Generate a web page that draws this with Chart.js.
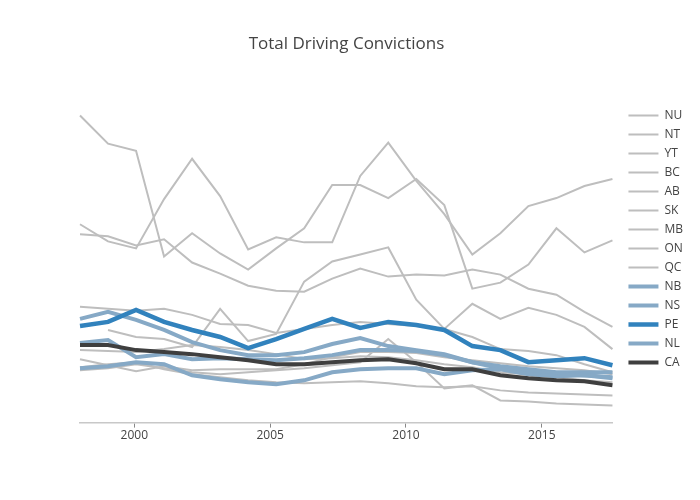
<!DOCTYPE html>
<html>
<head>
<meta charset="utf-8">
<script src="https://cdn.jsdelivr.net/npm/chart.js@4.4.1/dist/chart.umd.min.js"></script>
<style>
  html, body { margin: 0; padding: 0; background: #fff; }
</style>
</head>
<body>
<canvas id="convictions" width="700" height="500"></canvas>
<script>
// data (arbitrary units, 0 = bottom of the plot)
const years = [1998, 1999, 2000, 2001, 2002, 2003, 2004, 2005, 2006, 2007,
               2008, 2009, 2010, 2011, 2012, 2013, 2014, 2015, 2016, 2017];
const tickYears = [2000, 2005, 2010, 2015];

const NU = [305, 277, 270, 165, 188, 168, 152, 173, 193, 236, 236, 223, 242, 216, 133, 139, 157, 193, 169, 181];
const NT = [197, 180, 173, 222, 262, 225, 172, 184, 179, 179, 245, 278, 240, 207, 167, 188, 215, 223, 235, 242];
const YT = [null, 92, 85, 83, 75, 113, 81, 88, 140, 160, 167, 174, 122, 93, 118, 103, 114, 107, 95, 73];
const BC = [115, 113, 111, 113, 107, 98, 97, 89, 93, 97, 100, 98, 96, 93, 85, 73, 71, 67, 58, 50];
const AB = [63, 57, 51, 56, 52, 53, 53, 53, 58, 65, 70, 70, 69, 65, 62, 59, 56, 54, 52, 48];
const SK = [187, 185, 176, 182, 159, 148, 136, 131, 130, 143, 153, 145, 147, 146, 152, 147, 133, 127, 110, 95];
const MB = [72, 71, 70, 73, 77, 75, 72, 68, 63, 64, 66, 65, 62, 58, 55, 50, 48, 45, 42, 40];
const ON = [52, 54, 58, 54, 50, 48, 50, 52, 54, 57, 60, 83, 60, 34, 37, 22, 21, 19, 18, 17];
const QC = [55, 58, 60, 53, 48, 45, 42, 40, 39, 40, 41, 39, 36, 35, 36, 32, 30, 29, 28, 27];
const NB = [103, 110, 102, 92, 80, 72, 67, 67, 70, 78, 84, 76, 72, 68, 60, 56, 53, 50, 50, 50];
const NS = [79, 82, 65, 68, 63, 64, 63, 62, 64, 67, 72, 72, 71, 67, 60, 54, 51, 49, 47, 44];
const PE = [96, 100, 112, 100, 92, 85, 74, 83, 93, 103, 94, 100, 97, 92, 76, 72, 60, 62, 64, 57];
const NL = [54, 56, 60, 58, 47, 43, 40, 38, 42, 50, 53, 54, 54, 48, 52, 53, 48, 46, 47, 45];
const CA = [77, 77, 72, 70, 68, 65, 62, 58, 58, 60, 62, 63, 59, 53, 53, 47, 44, 42, 41, 37];

const GRAY = "#bebebe";
const PALE = "#86a9c6";
const BLUE = "#3182bd";
const DARK = "#3f3f3f";

const series = [
  ["NU", NU, GRAY, 2], ["NT", NT, GRAY, 2], ["YT", YT, GRAY, 2],
  ["BC", BC, GRAY, 2], ["AB", AB, GRAY, 2], ["SK", SK, GRAY, 2],
  ["MB", MB, GRAY, 2], ["ON", ON, GRAY, 2], ["QC", QC, GRAY, 2],
  ["NB", NB, PALE, 4], ["NS", NS, PALE, 4], ["PE", PE, BLUE, 4.5],
  ["NL", NL, PALE, 4], ["CA", CA, DARK, 4],
];

// later series sit on top, legend keeps the list order
const datasets = series.map(([name, values, color, width], i) => ({
  label: name,
  data: values,
  borderColor: color,
  backgroundColor: color,
  borderWidth: width,
  pointRadius: 0,
  tension: 0,
  fill: false,
  order: -i,
}));

const config = {
  type: "line",
  data: { labels: years, datasets: datasets },
  options: {
    responsive: false,
    animation: false,
    layout: { padding: { right: 7, bottom: 56 } },
    scales: {
      x: { type: "category", display: false, offset: false },
      xYears: {
        type: "linear",
        position: "bottom",
        min: 1998,
        max: 2017.6,
        afterBuildTicks: (axis) => {
          axis.ticks = tickYears.map((v) => ({ value: v }));
        },
        grid: { display: true, drawOnChartArea: false, drawTicks: true, tickLength: 5, tickColor: "#888", tickWidth: 1 },
        border: { display: true, color: "#c8c8c8", width: 1.5 },
        ticks: {
          color: "#444",
          font: { family: "Open Sans", size: 12 },
          padding: 1,
          maxRotation: 0,
          autoSkip: false,
          callback: (v) => String(v),
        },
      },
      y: {
        position: "right",
        min: 0,
        max: 320,
        ticks: { display: false },
        grid: { display: false },
        border: { display: false },
        afterFit: (s) => { s.width = 9; },
      },
      yLeft: {
        type: "linear",
        position: "left",
        ticks: { display: false },
        grid: { display: false },
        border: { display: false },
        afterFit: (s) => { s.width = 80; },
      },
    },
    plugins: {
      title: {
        display: true,
        text: "Total Driving Convictions",
        color: "#444",
        font: { family: "Open Sans", size: 17, weight: "normal" },
        padding: { top: 34, bottom: 46 },
      },
      legend: {
        position: "right",
        align: "start",
        fullSize: false,
        // empty title, only nudges the items down a little
        title: { display: true, text: "", font: { size: 1 }, padding: { top: 0, bottom: 1 } },
        labels: {
          usePointStyle: true,
          pointStyle: "line",
          pointStyleWidth: 30,
          color: "#444",
          font: { family: "Open Sans", size: 12 },
          padding: 7,
          sort: (a, b) => a.datasetIndex - b.datasetIndex,
        },
      },
      tooltip: { enabled: false },
    },
  },
};

const ctx = document.getElementById("convictions").getContext("2d");
const convictionsChart = new Chart(ctx, config);
</script>
</body>
</html>
